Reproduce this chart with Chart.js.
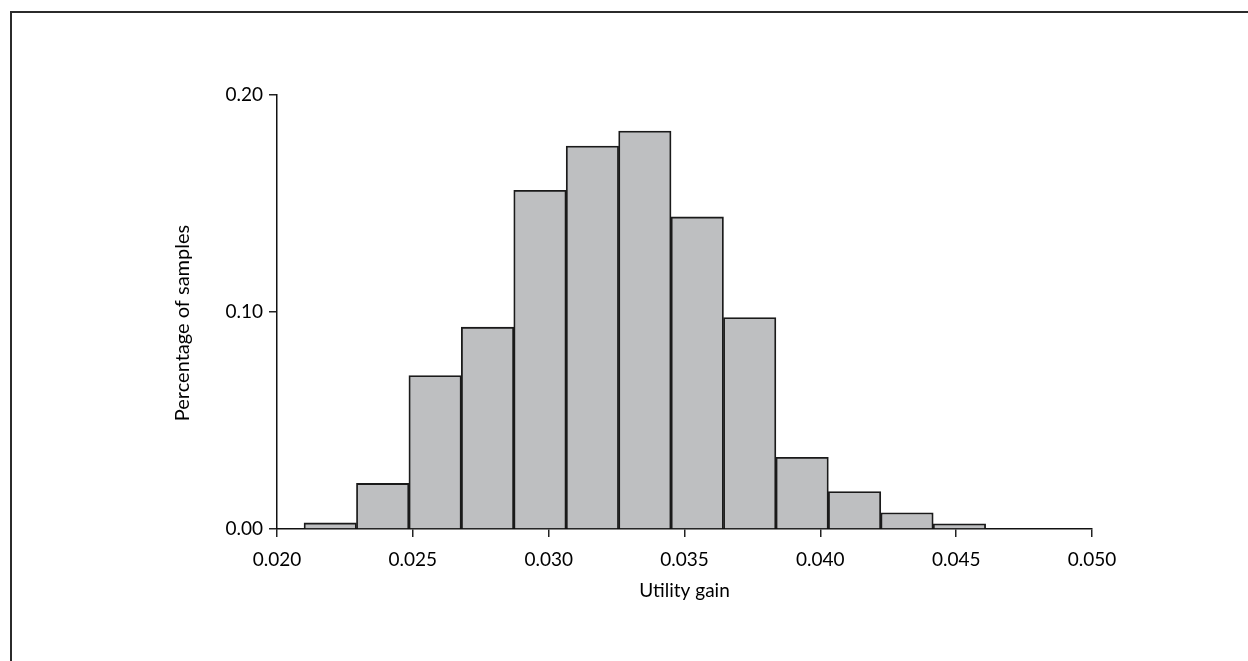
<!DOCTYPE html>
<html>
<head>
<meta charset="utf-8">
<title>Utility gain histogram</title>
<script src="https://cdn.jsdelivr.net/npm/chart.js@4"></script>
<style>
    html, body { margin: 0; padding: 0; background: #fff; overflow: hidden; }
    #frame {
        position: absolute; left: 10px; top: 11px;
        width: 1400px; height: 800px;
        border: 2px solid #2b2b2b;
    }
    #chart { position: absolute; left: 0; top: 0; }
</style>
</head>
<body>
<div id="frame"></div>
<canvas id="chart" width="1248" height="661"></canvas>
<script>
// histogram bins (centre of each bin) and the share of samples in each
const binCenters = [0.02196, 0.02389, 0.02582, 0.02775, 0.02968, 0.03161, 0.03354,
                    0.03547, 0.03740, 0.03933, 0.04126, 0.04319, 0.04512];
const sampleShare = [0.0028, 0.0210, 0.0707, 0.0930, 0.1561, 0.1765, 0.1834,
                     0.1438, 0.0974, 0.0330, 0.0173, 0.0075, 0.0024];
const xTicks = [0.020, 0.025, 0.030, 0.035, 0.040, 0.045, 0.050];
const yTicks = [0.00, 0.10, 0.20];

const FONT = 'Lato, "Open Sans", sans-serif';

// axis titles drawn by hand so they land where the original has them
const axisTitles = {
    id: 'axisTitles',
    afterDraw(chart) {
        const ctx = chart.ctx;
        const area = chart.chartArea;
        ctx.save();
        ctx.fillStyle = '#000';
        ctx.textAlign = 'center';
        ctx.textBaseline = 'middle';
        ctx.font = '19px ' + FONT;
        ctx.fillText('Utility gain', (area.left + area.right) / 2, 591);
        ctx.font = '20px ' + FONT;
        ctx.translate(183, 323);
        ctx.rotate(-Math.PI / 2);
        ctx.fillText('Percentage of samples', 0, 0);
        ctx.restore();
    }
};

new Chart(document.getElementById('chart'), {
    type: 'bar',
    data: {
        datasets: [{
            label: 'Share of samples',
            data: binCenters.map((x, i) => ({ x: x, y: sampleShare[i] })),
            backgroundColor: '#bebfc1',
            borderColor: '#1a1a1a',
            borderWidth: 1.8,
            barPercentage: 1,
            categoryPercentage: 1
        }]
    },
    options: {
        responsive: false,
        animation: false,
        layout: { padding: { left: 0, right: 156, top: 95, bottom: 0 } },
        plugins: {
            legend: { display: false },
            tooltip: { enabled: false }
        },
        scales: {
            x: {
                type: 'linear',
                offset: false,
                min: xTicks[0],
                max: xTicks[xTicks.length - 1],
                afterBuildTicks: (scale) => { scale.ticks = xTicks.map(v => ({ value: v })); },
                afterFit: (scale) => { scale.height = 132; },
                grid: { display: true, drawOnChartArea: false, drawTicks: true, tickLength: 8, color: '#222', lineWidth: 1.5, offset: false },
                border: { display: true, color: '#111', width: 1.5 },
                ticks: {
                    color: '#000',
                    padding: 11,
                    maxRotation: 0,
                    font: { family: FONT, size: 19 },
                    callback: (v) => v.toFixed(3)
                }
            },
            y: {
                min: 0,
                max: 0.2,
                afterBuildTicks: (scale) => { scale.ticks = yTicks.map(v => ({ value: v })); },
                afterFit: (scale) => { scale.width = 277; },
                grid: { display: true, drawOnChartArea: false, drawTicks: true, tickLength: 8, color: '#222', lineWidth: 1.5 },
                border: { display: true, color: '#111', width: 1.5 },
                ticks: {
                    color: '#000',
                    padding: 6,
                    font: { family: FONT, size: 19 },
                    callback: (v) => v.toFixed(2)
                }
            }
        }
    },
    plugins: [axisTitles]
});
</script>
</body>
</html>
